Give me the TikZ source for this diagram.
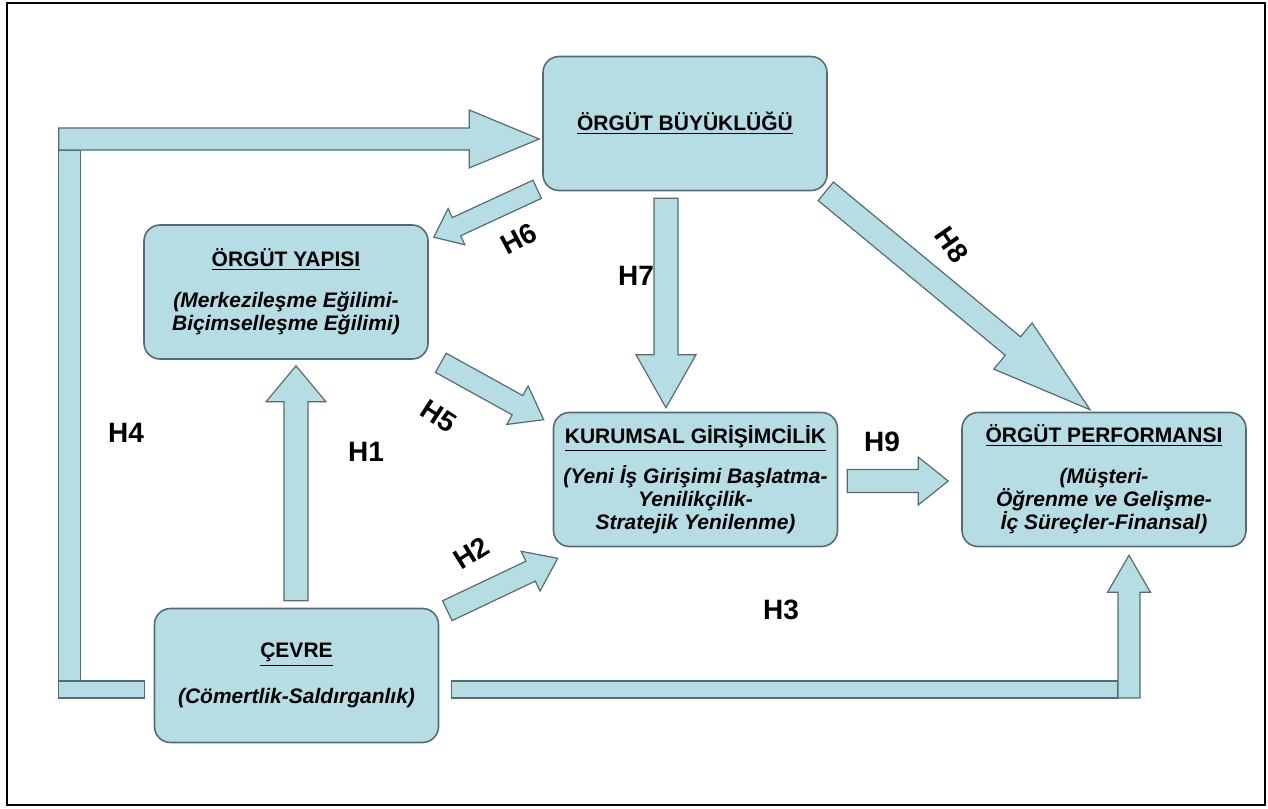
\documentclass[tikz,border=0pt]{standalone}
\usepackage{fontspec}
\setmainfont{Liberation Sans}
\usetikzlibrary{calc, shadows}
\definecolor{KutuDolgu}{RGB}{183,221,228}
\definecolor{KutuCizgi}{RGB}{86,108,114}

\tikzset{
  kutu/.style={draw=KutuCizgi, fill=KutuDolgu, line width=0.8pt, rounded corners=8pt,
    minimum width=142pt, minimum height=67pt, align=center, inner sep=2pt},
  blok/.style={draw=KutuCizgi, fill=KutuDolgu, line width=0.6pt, line join=miter},
  hetiket/.style={font=\fontsize{14}{16}\selectfont\bfseries, inner sep=1pt}
}

% block arrow: tail, tip, half shaft, half head, head length
\newcommand{\blokok}[5]{%
  \coordinate (bo-b) at ($(#2)!#5!(#1)$);
  \draw[blok] ($(#1)!#3!90:(#2)$) -- ($(bo-b)!#3!90:(#2)$) -- ($(bo-b)!#4!90:(#2)$) -- (#2)
    -- ($(bo-b)!#4!-90:(#2)$) -- ($(bo-b)!#3!-90:(#2)$) -- ($(#1)!#3!-90:(#2)$) -- cycle;
}

\begin{document}
\begin{tikzpicture}[x=0.5pt, y=-0.5pt, font=\fontsize{10.5}{11.5}\selectfont\bfseries]
\useasboundingbox (0,0) rectangle (1268,808);
\draw[line width=1pt] (7,3) rectangle (1265,805);

\node[kutu] (buyukluk) at (685,123.5) {\underline{ÖRGÜT BÜYÜKLÜĞÜ}};
\node[kutu] (yapi) at (286,292) {\underline{ÖRGÜT YAPISI}\\[9pt]\itshape (Merkezileşme Eğilimi-\\\itshape Biçimselleşme Eğilimi)};
\node[kutu] (girisim) at (695.5,479.5) {\underline{KURUMSAL GİRİŞİMCİLİK}\\[6pt]\itshape (Yeni İş Girişimi Başlatma-\\\itshape Yenilikçilik-\\\itshape Stratejik Yenilenme)};
\node[kutu] (performans) at (1104,479.5) {\underline{ÖRGÜT PERFORMANSI}\\[9pt]\itshape (Müşteri-\\\itshape Öğrenme ve Gelişme-\\\itshape İç Süreçler-Finansal)};
\node[kutu] (cevre) at (296.5,675.5) {\underline{ÇEVRE}\\[10pt]\itshape (Cömertlik-Saldırganlık)};

% H4
\coordinate (h4b) at ($(cevre.west)+(-9,14)$);
\coordinate (h4u) at ($(buyukluk.west)+(-3,15.5)$);
\coordinate (h4k) at ($(h4b |- h4u)+(-86,0)$);
\draw[blok] ($(h4k)+(0,11)$) rectangle ($(h4b)+(-64,-8.5)$);
\blokok{h4k}{h4u}{5.5pt}{14.5pt}{35pt}
\draw[blok] ($(h4b)+(-86,-8.5)$) rectangle ($(h4b)+(0,8.5)$);

% H3
\coordinate (h3b) at ($(cevre.east)+(12,14)$);
\coordinate (h3u) at ($(performans.south)+(25,8)$);
\coordinate (h3k) at ($(h3u |- h3b)+(0,8.5)$);
\draw[blok] ($(h3b)+(0,-8.5)$) rectangle ($(h3u |- h3b)+(-11,8.5)$);
\blokok{h3k}{h3u}{5.5pt}{10.75pt}{18.5pt}

% the other hypotheses
\coordinate (h6k) at ($(buyukluk.south west)+(-5,-2)$);
\coordinate (h6u) at ($(yapi.north east)+(5,13)$);
\blokok{h6k}{h6u}{5pt}{10pt}{12.5pt}
\coordinate (h7k) at ($(buyukluk.south)+(-19,7)$);
\coordinate (h7u) at ($(girisim.north)+(-29.5,-4)$);
\blokok{h7k}{h7u}{6pt}{15pt}{26.5pt}
\coordinate (h8k) at ($(buyukluk.south east)+(-2,0)$);
\coordinate (h8u) at ($(performans.north)+(-14,-2)$);
\blokok{h8k}{h8u}{6pt}{15pt}{50pt}
\coordinate (h1k) at ($(cevre.north)+(-0.5,-7)$);
\coordinate (h1u) at ($(yapi.south)+(10,6)$);
\blokok{h1k}{h1u}{6pt}{15pt}{18pt}
\coordinate (h5k) at ($(yapi.south east)+(12,3)$);
\coordinate (h5u) at ($(girisim.north west)+(-9,8)$);
\blokok{h5k}{h5u}{5.5pt}{11pt}{15pt}
\coordinate (h2k) at ($(cevre.north east)+(8,3)$);
\coordinate (h2u) at ($(girisim.south west)+(5,11)$);
\blokok{h2k}{h2u}{5.5pt}{11pt}{15pt}
\coordinate (h9k) at ($(girisim.east)+(9,1.5)$);
\coordinate (h9u) at ($(performans.west)+(-13,1.5)$);
\blokok{h9k}{h9u}{5.75pt}{12pt}{15pt}

\node[hetiket, rotate=28] (e6) at (519,239) {H6};
\node[hetiket] (e7) at (636,276) {H7};
\node[hetiket, rotate=-55] (e8) at (952,245) {H8};
\node[hetiket, rotate=-33] (e5) at (439,416) {H5};
\node[hetiket, rotate=32] (e2) at (471,553) {H2};
\node[hetiket] (e1) at (366,452) {H1};
\node[hetiket] (e4) at (126,433) {H4};
\node[hetiket] (e9) at (882,442) {H9};
\node[hetiket] (e3) at (781,610) {H3};
\end{tikzpicture}
\end{document}
